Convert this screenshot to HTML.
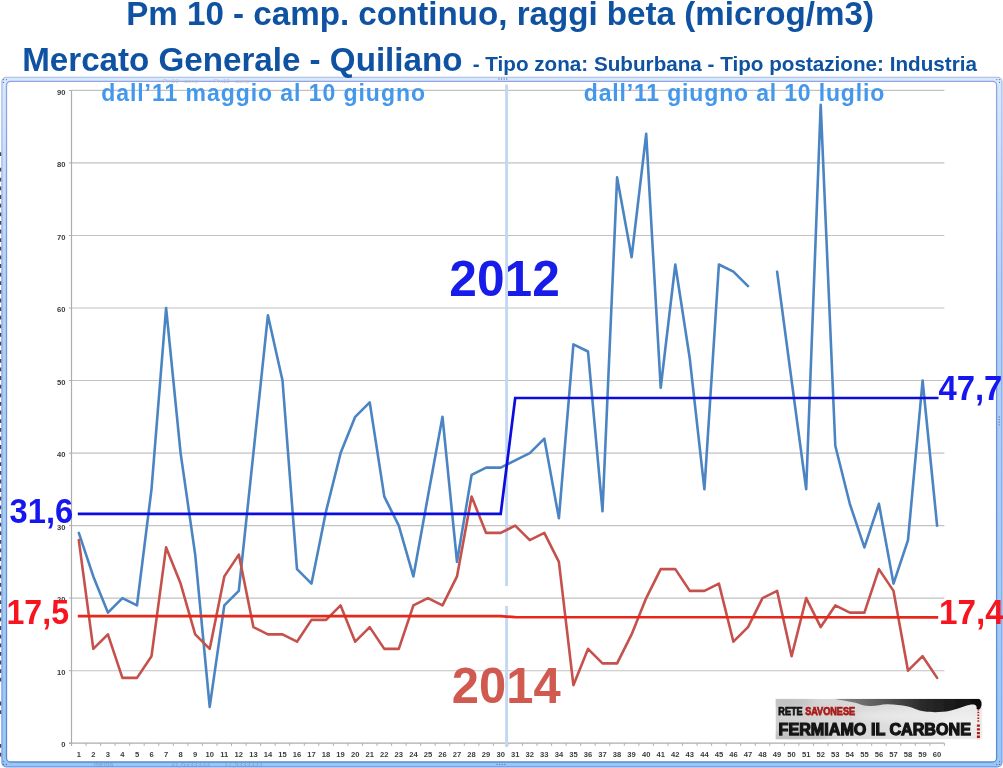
<!DOCTYPE html>
<html lang="it"><head><meta charset="utf-8"><title>Pm 10 - Mercato Generale - Quiliano</title>
<style>
html,body{margin:0;padding:0;background:#fff;}
body{width:1003px;height:768px;overflow:hidden;position:relative;font-family:"Liberation Sans",sans-serif;}
svg{position:absolute;left:0;top:0;display:block}
text{font-family:"Liberation Sans",sans-serif;}
.b{font-weight:bold}
.ax{font-size:7.6px;fill:#3c3c3c;font-weight:bold}
</style></head><body>
<svg width="1003" height="768" viewBox="0 0 1003 768">
<defs>
<linearGradient id="fm" gradientUnits="userSpaceOnUse" x1="0" y1="77" x2="0" y2="767"><stop offset="0" stop-color="#d6ebfb"/><stop offset=".3" stop-color="#b4d2f4"/><stop offset="1" stop-color="#98c8f2"/></linearGradient>
<linearGradient id="fo" gradientUnits="userSpaceOnUse" x1="0" y1="77" x2="0" y2="767"><stop offset="0" stop-color="#a9b5ea"/><stop offset=".3" stop-color="#7e9ce2"/><stop offset="1" stop-color="#7193e6"/></linearGradient>
<linearGradient id="fi" gradientUnits="userSpaceOnUse" x1="0" y1="77" x2="0" y2="767"><stop offset="0" stop-color="#98a2e6"/><stop offset=".3" stop-color="#7796de"/><stop offset="1" stop-color="#5a88d8"/></linearGradient>
<linearGradient id="lg" x1="0" y1="0" x2="1" y2="0"><stop offset="0" stop-color="#cfcfcf"/><stop offset=".5" stop-color="#dcdcdc"/><stop offset="1" stop-color="#ececec"/></linearGradient>
<linearGradient id="sm" gradientUnits="userSpaceOnUse" x1="834" y1="0" x2="982" y2="0"><stop offset="0" stop-color="#8a8a8a"/><stop offset=".35" stop-color="#555"/><stop offset=".6" stop-color="#2a2a2a"/><stop offset="1" stop-color="#0c0c0c"/></linearGradient>
<filter id="bl2" x="-20%" y="-50%" width="140%" height="200%"><feGaussianBlur stdDeviation="3"/></filter>
<filter id="bl" x="-5%" y="-20%" width="110%" height="140%"><feGaussianBlur stdDeviation="0.7"/></filter>
</defs>
<rect width="1003" height="768" fill="#fff"/>

<path d="M6.4 77.3H997.5A4.5 4.5 0 0 1 1002.0 81.8V762.4A4.5 4.5 0 0 1 997.5 766.9H6.4A4.5 4.5 0 0 1 1.9 762.4V81.8A4.5 4.5 0 0 1 6.4 77.3Z M10.5 81.3H992.6A4.0 4.0 0 0 1 996.6 85.3V758.0A4.0 4.0 0 0 1 992.6 762.0H10.5A4.0 4.0 0 0 1 6.5 758.0V85.3A4.0 4.0 0 0 1 10.5 81.3Z" fill="url(#fm)" fill-rule="evenodd"/>
<path d="M6.4 77.3H997.5A4.5 4.5 0 0 1 1002.0 81.8V762.4A4.5 4.5 0 0 1 997.5 766.9H6.4A4.5 4.5 0 0 1 1.9 762.4V81.8A4.5 4.5 0 0 1 6.4 77.3Z" fill="none" stroke="url(#fo)" stroke-width="1.1"/>
<path d="M10.5 81.3H992.6A4.0 4.0 0 0 1 996.6 85.3V758.0A4.0 4.0 0 0 1 992.6 762.0H10.5A4.0 4.0 0 0 1 6.5 758.0V85.3A4.0 4.0 0 0 1 10.5 81.3Z" fill="none" stroke="url(#fi)" stroke-width="1.3"/>
<path d="M3.5 79.6h.01M6.5 79.6h.01M3.5 82.4h.01 M999.5 79.6h.01M996.8 79.6h.01M999.5 82.4h.01 M3.6 764.4h.01M3.6 761.6h.01M6.4 764.4h.01 M999.6 764.4h.01M999.6 761.6h.01M996.8 764.4h.01 M999.2 417h.01M999.2 419.6h.01M999.2 422.2h.01M999.2 424.8h.01 M497 764.3h.01M499.6 764.3h.01M502.2 764.3h.01M504.8 764.3h.01 M499 79h.01M501.6 79h.01M504.2 79h.01M506.8 79h.01" stroke="#4a5a86" stroke-width="1.3" stroke-linecap="round" fill="none" opacity=".8"/>
<g font-size="7" fill="#6f92cc" opacity=".75"><text x="94" y="767">media</text><text x="170.5" y="767" textLength="39.5" lengthAdjust="spacingAndGlyphs">31,6333333</text><text x="224" y="767" textLength="38.6" lengthAdjust="spacingAndGlyphs">17,5333333</text></g>
<g font-size="6" fill="#b9bcc6" opacity=".9"><text x="163" y="82.5">Pm10 - camp</text><text x="214" y="82.5">Pm10 - camp</text></g>
<line x1="71.5" x2="944.4" y1="670.7" y2="670.7" stroke="#c2c2c2" stroke-width="1.15"/>
<line x1="71.5" x2="944.4" y1="598.1" y2="598.1" stroke="#c2c2c2" stroke-width="1.15"/>
<line x1="71.5" x2="944.4" y1="525.6" y2="525.6" stroke="#c2c2c2" stroke-width="1.15"/>
<line x1="71.5" x2="944.4" y1="453.1" y2="453.1" stroke="#c2c2c2" stroke-width="1.15"/>
<line x1="71.5" x2="944.4" y1="380.5" y2="380.5" stroke="#c2c2c2" stroke-width="1.15"/>
<line x1="71.5" x2="944.4" y1="308.0" y2="308.0" stroke="#c2c2c2" stroke-width="1.15"/>
<line x1="71.5" x2="944.4" y1="235.5" y2="235.5" stroke="#c2c2c2" stroke-width="1.15"/>
<line x1="71.5" x2="944.4" y1="162.9" y2="162.9" stroke="#c2c2c2" stroke-width="1.15"/>
<line x1="71.5" x2="944.4" y1="90.4" y2="90.4" stroke="#c2c2c2" stroke-width="1.15"/>
<line x1="71.5" x2="71.5" y1="90.4" y2="745.7" stroke="#adadad" stroke-width="1.2"/>
<line x1="69.0" x2="944.4" y1="743.2" y2="743.2" stroke="#adadad" stroke-width="1.2"/>
<path d="M71.5 743.2v2.6 M86.0 743.2v2.6 M100.6 743.2v2.6 M115.1 743.2v2.6 M129.7 743.2v2.6 M144.2 743.2v2.6 M158.8 743.2v2.6 M173.3 743.2v2.6 M187.9 743.2v2.6 M202.4 743.2v2.6 M217.0 743.2v2.6 M231.5 743.2v2.6 M246.1 743.2v2.6 M260.6 743.2v2.6 M275.2 743.2v2.6 M289.7 743.2v2.6 M304.3 743.2v2.6 M318.8 743.2v2.6 M333.4 743.2v2.6 M347.9 743.2v2.6 M362.5 743.2v2.6 M377.0 743.2v2.6 M391.6 743.2v2.6 M406.1 743.2v2.6 M420.7 743.2v2.6 M435.2 743.2v2.6 M449.8 743.2v2.6 M464.3 743.2v2.6 M478.9 743.2v2.6 M493.4 743.2v2.6 M507.9 743.2v2.6 M522.5 743.2v2.6 M537.0 743.2v2.6 M551.6 743.2v2.6 M566.1 743.2v2.6 M580.7 743.2v2.6 M595.2 743.2v2.6 M609.8 743.2v2.6 M624.3 743.2v2.6 M638.9 743.2v2.6 M653.4 743.2v2.6 M668.0 743.2v2.6 M682.5 743.2v2.6 M697.1 743.2v2.6 M711.6 743.2v2.6 M726.2 743.2v2.6 M740.7 743.2v2.6 M755.3 743.2v2.6 M769.8 743.2v2.6 M784.4 743.2v2.6 M798.9 743.2v2.6 M813.5 743.2v2.6 M828.0 743.2v2.6 M842.6 743.2v2.6 M857.1 743.2v2.6 M871.7 743.2v2.6 M886.2 743.2v2.6 M900.8 743.2v2.6 M915.3 743.2v2.6 M929.9 743.2v2.6 M944.4 743.2v2.6" stroke="#adadad" stroke-width="1" fill="none"/>
<path d="M71.5 743.2h-2.6 M71.5 670.7h-2.6 M71.5 598.1h-2.6 M71.5 525.6h-2.6 M71.5 453.1h-2.6 M71.5 380.5h-2.6 M71.5 308.0h-2.6 M71.5 235.5h-2.6 M71.5 162.9h-2.6 M71.5 90.4h-2.6" stroke="#adadad" stroke-width="1" fill="none"/>
<g class="ax" text-anchor="end">
<text x="65.4" y="747.4">0</text>
<text x="65.4" y="674.9">10</text>
<text x="65.4" y="602.3">20</text>
<text x="65.4" y="529.8">30</text>
<text x="65.4" y="457.3">40</text>
<text x="65.4" y="384.7">50</text>
<text x="65.4" y="312.2">60</text>
<text x="65.4" y="239.7">70</text>
<text x="65.4" y="167.1">80</text>
<text x="65.4" y="94.6">90</text>
</g><g class="ax" text-anchor="middle">
<text x="78.8" y="756.9">1</text>
<text x="93.3" y="756.9">2</text>
<text x="107.9" y="756.9">3</text>
<text x="122.4" y="756.9">4</text>
<text x="137.0" y="756.9">5</text>
<text x="151.5" y="756.9">6</text>
<text x="166.1" y="756.9">7</text>
<text x="180.6" y="756.9">8</text>
<text x="195.2" y="756.9">9</text>
<text x="209.7" y="756.9">10</text>
<text x="224.3" y="756.9">11</text>
<text x="238.8" y="756.9">12</text>
<text x="253.4" y="756.9">13</text>
<text x="267.9" y="756.9">14</text>
<text x="282.5" y="756.9">15</text>
<text x="297.0" y="756.9">16</text>
<text x="311.5" y="756.9">17</text>
<text x="326.1" y="756.9">18</text>
<text x="340.6" y="756.9">19</text>
<text x="355.2" y="756.9">20</text>
<text x="369.7" y="756.9">21</text>
<text x="384.3" y="756.9">22</text>
<text x="398.8" y="756.9">23</text>
<text x="413.4" y="756.9">24</text>
<text x="427.9" y="756.9">25</text>
<text x="442.5" y="756.9">26</text>
<text x="457.0" y="756.9">27</text>
<text x="471.6" y="756.9">28</text>
<text x="486.1" y="756.9">29</text>
<text x="500.7" y="756.9">30</text>
<text x="515.2" y="756.9">31</text>
<text x="529.8" y="756.9">32</text>
<text x="544.3" y="756.9">33</text>
<text x="558.9" y="756.9">34</text>
<text x="573.4" y="756.9">35</text>
<text x="588.0" y="756.9">36</text>
<text x="602.5" y="756.9">37</text>
<text x="617.1" y="756.9">38</text>
<text x="631.6" y="756.9">39</text>
<text x="646.2" y="756.9">40</text>
<text x="660.7" y="756.9">41</text>
<text x="675.3" y="756.9">42</text>
<text x="689.8" y="756.9">43</text>
<text x="704.4" y="756.9">44</text>
<text x="718.9" y="756.9">45</text>
<text x="733.4" y="756.9">46</text>
<text x="748.0" y="756.9">47</text>
<text x="762.5" y="756.9">48</text>
<text x="777.1" y="756.9">49</text>
<text x="791.6" y="756.9">50</text>
<text x="806.2" y="756.9">51</text>
<text x="820.7" y="756.9">52</text>
<text x="835.3" y="756.9">53</text>
<text x="849.8" y="756.9">54</text>
<text x="864.4" y="756.9">55</text>
<text x="878.9" y="756.9">56</text>
<text x="893.5" y="756.9">57</text>
<text x="908.0" y="756.9">58</text>
<text x="922.6" y="756.9">59</text>
<text x="937.1" y="756.9">60</text>
</g>
<text class="b" x="101.20" y="100.5" font-size="23" fill="#4398ec" textLength="323.75" lengthAdjust="spacing">dall’11 maggio al 10 giugno</text>
<text class="b" x="583.80" y="100.5" font-size="23" fill="#4398ec" textLength="300.45" lengthAdjust="spacing">dall’11 giugno al 10 luglio</text>
<text class="b" x="449.31" y="295.5" font-size="50" fill="#181ce8" textLength="110.49" lengthAdjust="spacingAndGlyphs">2012</text>
<text class="b" x="451.82" y="702.9" font-size="50" fill="#d05a50" textLength="108.79" lengthAdjust="spacingAndGlyphs">2014</text>
<path d="M506.6 84.5V586M506.6 606V747" stroke="#c3d7f2" stroke-width="2.9" fill="none"/>
<path d="M78.8 532.9 L93.3 576.4 L107.9 612.6 L122.4 598.1 L137.0 605.4 L151.5 489.3 L166.1 308.0 L180.6 453.1 L195.2 554.6 L209.7 706.9 L224.3 605.4 L238.8 590.9 L253.4 453.1 L267.9 315.3 L282.5 380.5 L297.0 569.1 L311.5 583.6 L326.1 511.1 L340.6 453.1 L355.2 416.8 L369.7 402.3 L384.3 496.6 L398.8 525.6 L413.4 576.4 L427.9 496.6 L442.5 416.8 L457.0 561.9 L471.6 474.8 L486.1 467.6 L500.7 467.6 L515.2 460.3 L529.8 453.1 L544.3 438.6 L558.9 518.3 L573.4 344.3 L588.0 351.5 L602.5 511.1 L617.1 177.4 L631.6 257.2 L646.2 133.9 L660.7 387.8 L675.3 264.5 L689.8 358.8 L704.4 489.3 L718.9 264.5 L733.4 271.7 L748.0 286.2 M777.1 271.7 L791.6 380.5 L806.2 489.3 L820.7 104.9 L835.3 445.8 L849.8 503.8 L864.4 547.4 L878.9 503.8 L893.5 583.6 L908.0 540.1 L922.6 380.5 L937.1 525.6" fill="none" stroke="#4b84c2" stroke-width="2.6" stroke-linejoin="round" stroke-linecap="round"/>
<path d="M78.8 540.1 L93.3 648.9 L107.9 634.4 L122.4 677.9 L137.0 677.9 L151.5 656.2 L166.1 547.4 L180.6 583.6 L195.2 634.4 L209.7 648.9 L224.3 576.4 L238.8 554.6 L253.4 627.1 L267.9 634.4 L282.5 634.4 L297.0 641.7 L311.5 619.9 L326.1 619.9 L340.6 605.4 L355.2 641.7 L369.7 627.1 L384.3 648.9 L398.8 648.9 L413.4 605.4 L427.9 598.1 L442.5 605.4 L457.0 576.4 L471.6 496.6 L486.1 532.9 L500.7 532.9 L515.2 525.6 L529.8 540.1 L544.3 532.9 L558.9 561.9 L573.4 685.2 L588.0 648.9 L602.5 663.4 L617.1 663.4 L631.6 634.4 L646.2 598.1 L660.7 569.1 L675.3 569.1 L689.8 590.9 L704.4 590.9 L718.9 583.6 L733.4 641.7 L748.0 627.1 L762.5 598.1 L777.1 590.9 L791.6 656.2 L806.2 598.1 L820.7 627.1 L835.3 605.4 L849.8 612.6 L864.4 612.6 L878.9 569.1 L893.5 590.9 L908.0 670.7 L922.6 656.2 L937.1 677.9" fill="none" stroke="#c5514c" stroke-width="2.6" stroke-linejoin="round" stroke-linecap="round"/>
<path d="M77.8 513.9 L500.7 513.9 L515.2 398 L938.5 398" fill="none" stroke="#0c0cde" stroke-width="2.7" stroke-linejoin="miter"/>
<path d="M77.8 616.1 L500.7 616.1 L515.2 617.2 L938.2 617.3" fill="none" stroke="#e5281a" stroke-width="2.7"/>
<text class="b" x="9.60" y="523.1" font-size="34.4" fill="#1616f0" textLength="63.67" lengthAdjust="spacingAndGlyphs">31,6</text>
<text class="b" x="6.43" y="624.3" font-size="34.4" fill="#f6141f" textLength="62.59" lengthAdjust="spacingAndGlyphs">17,5</text>
<text class="b" x="938.40" y="400.3" font-size="34.4" fill="#1616f0" textLength="63.98" lengthAdjust="spacingAndGlyphs">47,7</text>
<text class="b" x="938.97" y="624.3" font-size="34.4" fill="#f6141f" textLength="64.76" lengthAdjust="spacingAndGlyphs">17,4</text>
<text class="b" x="126.20" y="24.7" font-size="33.2" fill="#0e52a1" textLength="747.75" lengthAdjust="spacingAndGlyphs">Pm 10 - camp. continuo, raggi beta (microg/m3)</text>
<text class="b" x="22.20" y="70.7" font-size="33.2" fill="#0e52a1" textLength="440.27" lengthAdjust="spacingAndGlyphs">Mercato Generale - Quiliano</text>
<text class="b" x="472.70" y="71.0" font-size="20.8" fill="#0e52a1" textLength="504.27" lengthAdjust="spacingAndGlyphs">- Tipo zona: Suburbana - Tipo postazione: Industria</text>
<clipPath id="lc"><rect x="775.5" y="698.8" width="206.8" height="40.6"/></clipPath><g id="logo" clip-path="url(#lc)">
<rect x="775.5" y="698.8" width="206.8" height="40.6" fill="url(#lg)"/>
<g filter="url(#bl2)" opacity=".55"><ellipse cx="800" cy="737" rx="30" ry="5" fill="#aaa"/><ellipse cx="790" cy="702" rx="22" ry="5" fill="#b4b4b4"/><ellipse cx="900" cy="716" rx="45" ry="5" fill="#f2f2f2"/><ellipse cx="960" cy="722" rx="18" ry="9" fill="#f4f4f4"/></g>
<path filter="url(#bl)" d="M834 698.8 L979 698.8 C982 701 982.5 705 980 709 L976.5 709 C977.5 705.5 975 703.5 969 705 C963 706.5 958 709 950 710.8 C942 712.5 932 712.5 925 711.6 C917 710.5 913 707.5 908 706.5 C901 705 895 704.5 888 704.2 C881 704 876 706.5 869 706 C862 705.5 858 703.2 854 702.4 C847 701 840 700.2 834 698.8Z" fill="url(#sm)"/>
<path d="M978.3 709v14" stroke="#b81c1c" stroke-width="1.8" stroke-dasharray="1.5 1.3" fill="none"/>
<path d="M978.4 724.5v15" stroke="#b01818" stroke-width="3" stroke-dasharray="2.3 1.4" fill="none"/>
<text x="778.3" y="715.3" font-size="10.4" font-weight="bold" fill="#141414" stroke="#141414" stroke-width=".75" textLength="76.8" lengthAdjust="spacingAndGlyphs">RETE <tspan fill="#a81a1a" stroke="#a81a1a">SAVONESE</tspan></text>
<text x="778.6" y="735.1" font-size="16.8" font-weight="bold" fill="#141414" stroke="#141414" stroke-width="1.25" stroke-linejoin="miter" textLength="192.4" lengthAdjust="spacingAndGlyphs">FERMIAMO IL CARBONE</text>
</g>
<path d="M0 154.2h1.2 M0 169.7h1.2 M0 179.6h1.2 M0 188.4h1.2 M0 197.0h1.2 M0 205.6h1.2 M0 214.3h1.2 M0 222.9h1.2 M0 231.5h1.2 M0 240.1h1.2 M0 248.7h1.2 M0 257.4h1.2 M0 266.0h1.2 M0 274.6h1.2 M0 283.2h1.2 M0 291.8h1.2 M0 300.5h1.2 M0 309.1h1.2 M0 317.7h1.2 M0 326.3h1.2 M0 334.9h1.2 M0 343.6h1.2 M0 352.2h1.2 M0 360.8h1.2 M0 369.4h1.2 M0 378.0h1.2 M0 386.7h1.2 M0 395.3h1.2 M0 403.9h1.2 M0 412.5h1.2 M0 421.1h1.2 M0 429.8h1.2 M0 438.4h1.2 M0 447.0h1.2 M0 455.6h1.2 M0 464.2h1.2 M0 472.9h1.2 M0 481.5h1.2 M0 490.1h1.2 M0 498.7h1.2 M0 507.3h1.2 M0 516.0h1.2 M0 524.6h1.2 M0 533.2h1.2 M0 541.8h1.2 M0 550.4h1.2 M0 559.1h1.2 M0 567.7h1.2 M0 576.3h1.2 M0 584.9h1.2 M0 593.5h1.2 M0 602.2h1.2 M0 610.8h1.2 M0 619.4h1.2 M0 628.0h1.2 M0 636.6h1.2 M0 645.3h1.2 M0 653.9h1.2 M0 662.5h1.2 M0 671.1h1.2 M0 679.7h1.2 M0 703.5h1.2 M0 712.2h1.2 M0 745.9h1.2 M0 754.6h1.2" stroke="#2c2440" stroke-width="3.8" fill="none" opacity=".85"/>
</svg></body></html>
